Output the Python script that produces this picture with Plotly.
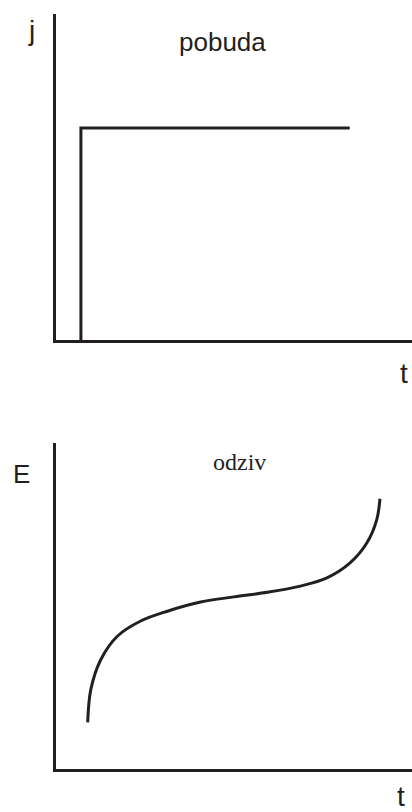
import plotly.graph_objects as go

# Excitation (pobuda): step current
step_t = [0.7, 0.7, 8.25]
step_j = [0.0, 6.5, 6.5]

# Response (odziv): potential vs time
resp_t = [0.89, 0.98, 1.26, 1.73, 2.38, 3.13, 4.06, 5.00, 5.93, 6.86, 7.61, 8.26, 8.73, 9.01, 9.10]
resp_E = [1.43, 2.45, 3.36, 4.08, 4.54, 4.84, 5.12, 5.28, 5.42, 5.61, 5.86, 6.32, 6.93, 7.65, 8.29]

INK = "#231f20"
W, H = 412, 812

def px(x):
    return x / W

def py(y):
    return 1 - y / H

fig = go.Figure()
fig.add_trace(go.Scatter(x=step_t, y=step_j, mode="lines",
                         line=dict(color=INK, width=3), xaxis="x", yaxis="y",
                         hoverinfo="skip"))
fig.add_trace(go.Scatter(x=resp_t, y=resp_E, mode="lines",
                         line=dict(color=INK, width=3, shape="spline", smoothing=1.0),
                         xaxis="x2", yaxis="y2", hoverinfo="skip"))

ax = dict(showline=True, linecolor=INK, linewidth=3, showgrid=False, zeroline=False,
          showticklabels=False, ticks="", range=[0, 10], fixedrange=True)

fig.update_layout(
    width=W, height=H,
    margin=dict(l=0, r=0, t=0, b=0),
    paper_bgcolor="white", plot_bgcolor="white",
    showlegend=False,
    xaxis=dict(ax, domain=[px(56), 1], anchor="y"),
    yaxis=dict(ax, domain=[py(340), py(14)], anchor="x"),
    xaxis2=dict(ax, domain=[px(56), 1], anchor="y2"),
    yaxis2=dict(ax, domain=[py(769), py(443)], anchor="x2"),
)

sans = "Arial, Liberation Sans, sans-serif"
serif = "Times New Roman, Liberation Serif, serif"
ann = [
    ("j", 32, 30, sans, 28),
    ("pobuda", 222, 42, sans, 26),
    ("t", 404, 373, sans, 28),
    ("E", 21, 474, sans, 26),
    ("odziv", 240, 462, serif, 24),
    ("t", 401, 796, sans, 28),
]
for text, x, y, fam, size in ann:
    fig.add_annotation(text=text, x=px(x), y=py(y), xref="paper", yref="paper",
                       showarrow=False, xanchor="center", yanchor="middle",
                       font=dict(family=fam, size=size, color=INK))

fig.write_html("out.html", config={"displayModeBar": False},
               post_script="document.body.style.margin='0';document.body.style.overflow='hidden';document.documentElement.style.overflow='hidden';")
